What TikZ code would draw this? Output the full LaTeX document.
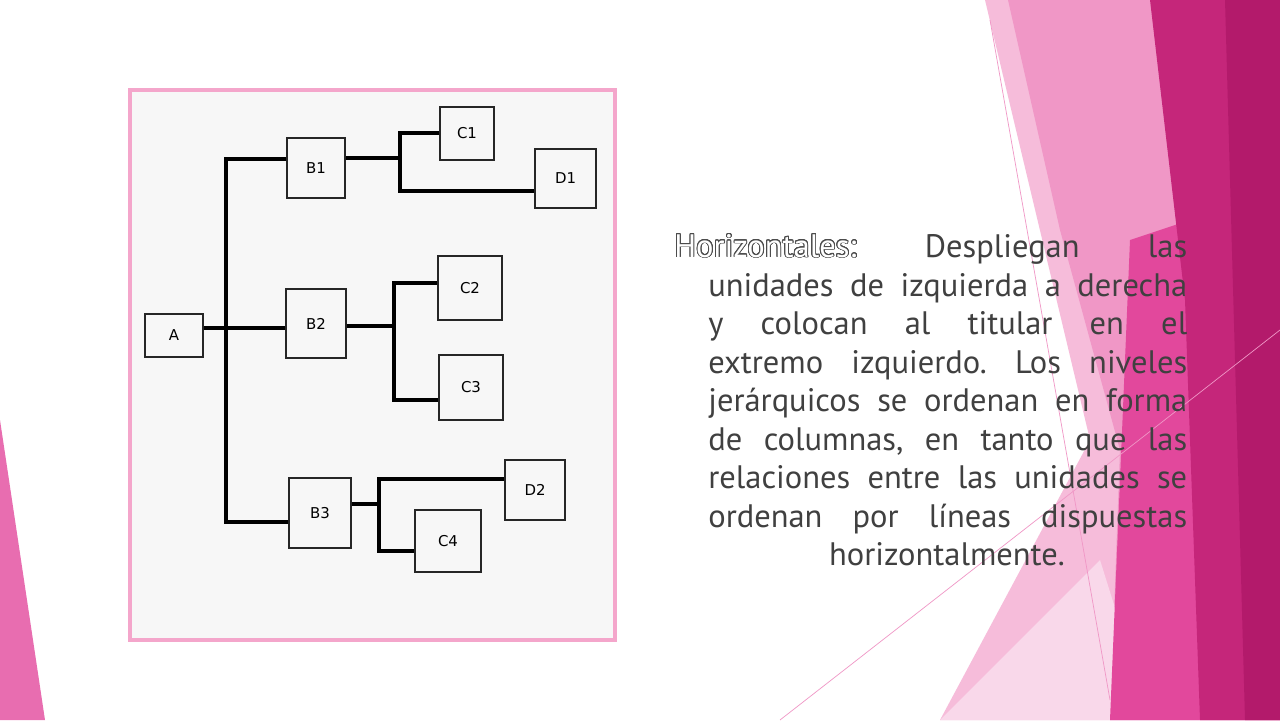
\documentclass[tikz,border=0pt]{standalone}
\usepackage{fontspec}
\setmainfont{PT Sans}
\newfontfamily\boxfont{DejaVu Sans}
\usepackage{contour}
\contourlength{0.5pt}
\contournumber{24}
\frenchspacing
\definecolor{txt}{HTML}{404040}
\definecolor{pk1}{HTML}{F6BCDA}
\definecolor{pk2}{HTML}{F097C6}
\definecolor{pk3}{HTML}{E2489C}
\definecolor{pk4}{HTML}{C5267A}
\definecolor{pk5}{HTML}{B31A6B}
\definecolor{pk6}{HTML}{F9D8EA}
\definecolor{frame}{HTML}{F4A6CB}
\begin{document}
\begin{tikzpicture}[x=0.02cm,y=-0.02cm,
  unit/.style={draw=black!85,line width=1pt,fill=black!3,minimum width=#1,inner sep=0pt,font=\boxfont\fontsize{8.5}{10}\selectfont},
  link/.style={line width=2pt,black},
  txtline/.style={anchor=base west,inner sep=0pt,text=txt,font=\fontsize{18.5}{22}\selectfont}]
\useasboundingbox (0,0) rectangle (1280,720);
\fill[white] (0,0) rectangle (1280,720);
% background decoration
\fill[pk1] (985,0) -- (1280,0) -- (1280,720) -- (940,720) -- (1090,440) -- cycle;
\fill[pk2] (1008,0) -- (1280,0) -- (1280,720) -- (1110,720) -- (1120,450) -- (1060,230) -- cycle;
\fill[pk6] (940,720) -- (1100,560) -- (1150,720) -- cycle;
\fill[pk3] (1130,240) -- (1280,190) -- (1280,720) -- (1110,720) -- cycle;
\fill[pk4] (1150,0) -- (1280,0) -- (1280,720) -- (1200,720) -- (1185,300) -- cycle;
\fill[pk5] (1225,0) -- (1280,0) -- (1280,720) -- (1245,720) -- cycle;
\draw[pk2,line width=0.4pt] (780,720) -- (1280,330);
\draw[pk2,line width=0.4pt] (990,20) -- (1110,700);
\fill[pk3!80] (0,420) -- (45,720) -- (0,720) -- cycle;
% diagram frame
\draw[frame,line width=2.5pt,fill=black!3] (130,90) rectangle (615,640);
% nodes
\node[unit=58*0.02cm,minimum height=43*0.02cm] (A) at (174,335.5) {A};
\node[unit=58*0.02cm,minimum height=60*0.02cm] (B1) at (316,168) {B1};
\node[unit=60*0.02cm,minimum height=69*0.02cm] (B2) at (316,323.5) {B2};
\node[unit=62*0.02cm,minimum height=70*0.02cm] (B3) at (320,513) {B3};
\node[unit=54*0.02cm,minimum height=53*0.02cm] (C1) at (467,133.5) {C1};
\node[unit=61*0.02cm,minimum height=59*0.02cm] (D1) at (565.5,178.5) {D1};
\node[unit=64*0.02cm,minimum height=64*0.02cm] (C2) at (470,288) {C2};
\node[unit=64*0.02cm,minimum height=65*0.02cm] (C3) at (471,387.5) {C3};
\node[unit=60*0.02cm,minimum height=60*0.02cm] (D2) at (535,490) {D2};
\node[unit=66*0.02cm,minimum height=62*0.02cm] (C4) at (448,541) {C4};
% junction coordinates
\coordinate (t) at (226,328);
\coordinate (j1) at (400,158);
\coordinate (j2) at (394,326);
\coordinate (j3) at (379,504);
% connectors
\draw[link] (A.east |- t) -- (B2.west |- t);
\draw[link] (B1.west |- 0,159) -| (t) |- (B3.west |- 0,522);
\draw[link] (B1.east |- j1) -- (j1);
\draw[link] (C1.west |- 0,133) -| (j1) |- (D1.west |- 0,191);
\draw[link] (B2.east |- j2) -- (j2);
\draw[link] (C2.west |- 0,283) -| (j2) |- (C3.west |- 0,400);
\draw[link] (B3.east |- j3) -- (j3);
\draw[link] (D2.west |- 0,479) -| (j3) |- (C4.west |- 0,551);
% text
\node[txtline] (l1) at (674,257) {\makebox[10.26cm][s]{\contour{black!70}{\textcolor{white}{Horizontales:}} Despliegan las}};
\node[txtline] (l2) at (708,296) {\makebox[9.58cm][s]{unidades de izquierda a derecha}};
\node[txtline] (l3) at (708,334) {\makebox[9.58cm][s]{y colocan al titular en el}};
\node[txtline] (l4) at (708,373) {\makebox[9.58cm][s]{extremo izquierdo. Los niveles}};
\node[txtline] (l5) at (708,411) {\makebox[9.58cm][s]{jerárquicos se ordenan en forma}};
\node[txtline] (l6) at (708,450) {\makebox[9.58cm][s]{de columnas, en tanto que las}};
\node[txtline] (l7) at (708,488) {\makebox[9.58cm][s]{relaciones entre las unidades se}};
\node[txtline] (l8) at (708,527) {\makebox[9.58cm][s]{ordenan por líneas dispuestas}};
\node[txtline,anchor=base] (l9) at (947,565) {horizontalmente.};
\end{tikzpicture}
\end{document}
